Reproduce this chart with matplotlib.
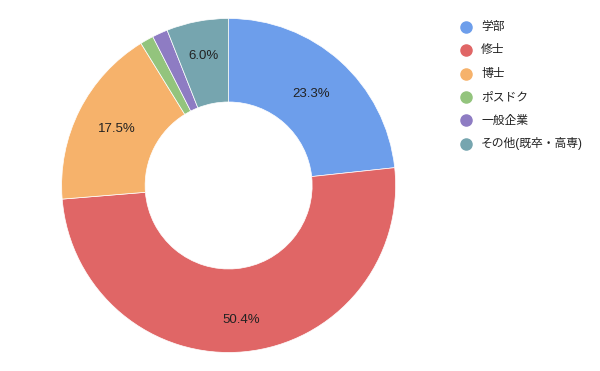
import numpy as np
import matplotlib
matplotlib.use("Agg")
import matplotlib.pyplot as plt

plt.rcParams['font.family'] = ['Liberation Sans', 'Noto Sans CJK JP', 'DejaVu Sans']

# data
labels = ["学部", "修士", "博士", "ポスドク", "一般企業", "その他(既卒・高専)"]
values = [23.3, 50.4, 17.5, 1.3, 1.5, 6.0]
colors = ["#6d9eeb", "#e06666", "#f6b26b", "#93c47d", "#8e7cc3", "#76a5af"]
# how far out each percent label sits (fraction of the outer radius)
label_dist = [0.74, 0.81, 0.75, 0.75, 0.75, 0.79]

fig = plt.figure(figsize=(6, 3.71), dpi=100)
ax = fig.add_axes([0.381 - 0.2783, 0.500 - 0.4501, 0.5567, 0.9003])

wedges, _ = ax.pie(values, colors=colors, startangle=90, counterclock=False,
                   radius=1.0,
                   wedgeprops=dict(width=0.5, edgecolor="white", linewidth=0.5))

total = sum(values)
for w, v, d in zip(wedges, values, label_dist):
    pct = v / total * 100
    if pct < 5:
        continue
    ang = np.deg2rad((w.theta1 + w.theta2) / 2)
    ax.text(d * np.cos(ang), d * np.sin(ang), f"{pct:.1f}%",
            ha="center", va="center", fontsize=9.5, color="#222222")

ax.set_xlim(-1, 1)
ax.set_ylim(-1, 1)
ax.set_aspect("equal")
ax.axis("off")

# legend drawn by hand
y0 = 26.5
step = 23.5
for i, (lab, col) in enumerate(zip(labels, colors)):
    y = 1 - (y0 + i * step) / 371
    fig.add_artist(plt.Line2D([466 / 600], [y], marker="o", markersize=8,
                              color=col, linestyle="none",
                              transform=fig.transFigure))
    fig.text(481 / 600, y, lab, fontsize=8.5, va="center", ha="left",
             color="#222222")

fig.savefig("out.png", dpi=100)
